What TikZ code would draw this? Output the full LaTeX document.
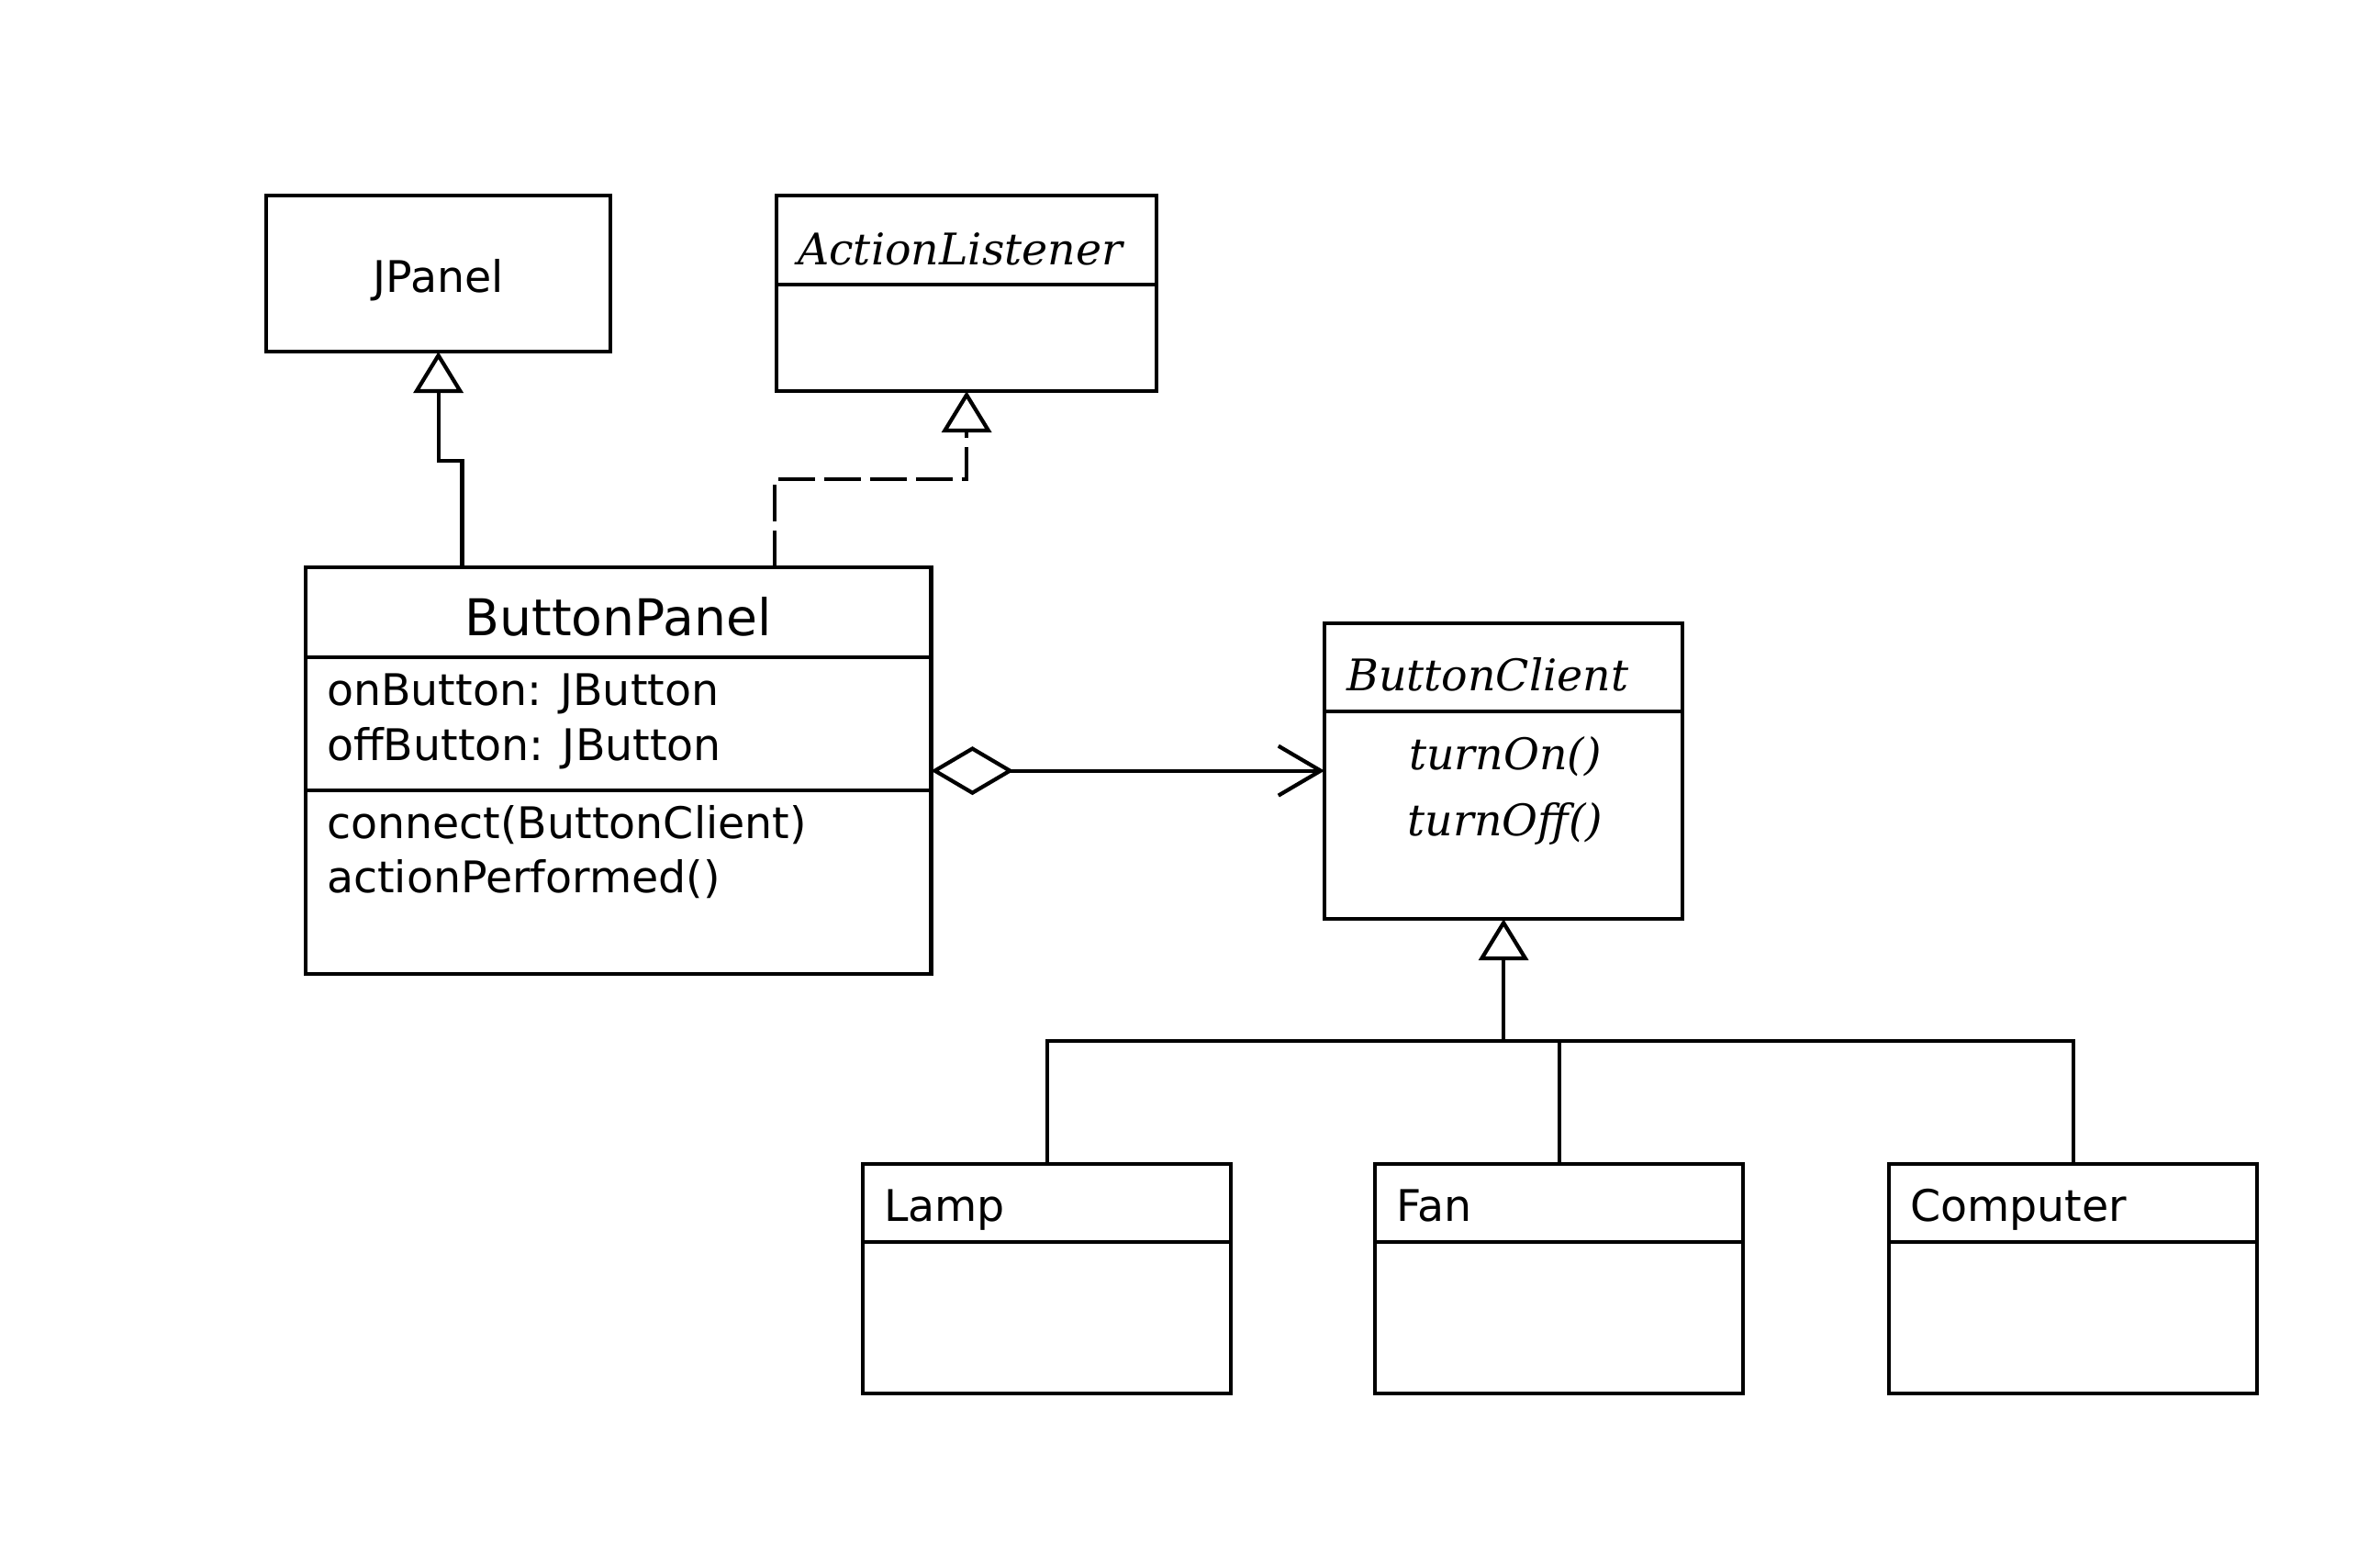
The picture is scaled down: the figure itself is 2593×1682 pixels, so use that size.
\documentclass[tikz,border=0pt]{standalone}
\usepackage{fontspec}
\setmainfont{DejaVu Sans}
\newfontfamily\serifface{DejaVu Serif}
\usetikzlibrary{arrows.meta}
\begin{document}
\begin{tikzpicture}[x=0.01cm,y=-0.01cm, line width=1.2pt,
  box/.style={draw, rectangle, inner sep=0pt, outer sep=0pt, anchor=north west},
  txt/.style={inner sep=0pt, font=\fontsize{13.5}{16}\selectfont},
  titletxt/.style={inner sep=0pt, font=\fontsize{15.7}{18}\selectfont},
  ittxt/.style={inner sep=0pt, font=\serifface\itshape\fontsize{13.5}{16}\selectfont},
  gen/.style={-{Triangle[open,length=0.45cm,width=0.54cm]}},
  realize/.style={gen, dash pattern=on 0.4cm off 0.1cm},
  aggr/.style={{Diamond[open,length=0.9cm,width=0.53cm]}-{Straight Barb[length=0.46cm,width=0.54cm]}}
]
\fill[white] (0,0) rectangle (2593,1682);
\useasboundingbox (0,0) rectangle (2593,1682);

% boxes
\node[box, minimum width=3.75cm, minimum height=1.70cm] (jp) at (290,213) {};
\node[box, minimum width=4.14cm, minimum height=2.13cm] (al) at (846,213) {};
\node[box, minimum width=6.81cm, minimum height=4.43cm] (bp) at (333,618) {};
\node[box, minimum width=3.90cm, minimum height=3.22cm] (bc) at (1443,679) {};
\node[box, minimum width=4.01cm, minimum height=2.50cm] (lamp) at (940,1268) {};
\node[box, minimum width=4.01cm, minimum height=2.50cm] (fan) at (1498,1268) {};
\node[box, minimum width=4.01cm, minimum height=2.50cm] (comp) at (2058,1268) {};

% compartment dividers
\draw (al.west |- 0,310) -- (al.east |- 0,310);
\draw (bp.west |- 0,716) -- (bp.east |- 0,716);
\draw (bp.west |- 0,861) -- (bp.east |- 0,861);
\draw (bc.west |- 0,775) -- (bc.east |- 0,775);
\draw (lamp.west |- 0,1353) -- (lamp.east |- 0,1353);
\draw (fan.west |- 0,1353) -- (fan.east |- 0,1353);
\draw (comp.west |- 0,1353) -- (comp.east |- 0,1353);

% texts
\node[txt, anchor=base] (jpt) at (477.5,318) {JPanel};
\node[ittxt, anchor=base west] (alt) at (867,288) {ActionListener};
\node[titletxt, anchor=base] (bpt) at (673.5,692) {ButtonPanel};
\node[txt, anchor=base west] (a1) at (354,768) {onButton: JButton};
\node[txt, anchor=base west] (a2) at (354,828) {offButton: JButton};
\node[txt, anchor=base west] (m1) at (354,913) {connect(ButtonClient)};
\node[txt, anchor=base west] (m2) at (354,972) {actionPerformed()};
\node[ittxt, anchor=base west] (bct) at (1465,752) {ButtonClient};
\node[ittxt, anchor=base] (on) at (1640,838) {turnOn()};
\node[ittxt, anchor=base] (off) at (1640,910) {turnOff()};
\node[txt, anchor=base west] (lampt) at (961,1330) {Lamp};
\node[txt, anchor=base west] (fant) at (1519,1330) {Fan};
\node[txt, anchor=base west] (compt) at (2079,1330) {Computer};

% connectors
\draw[gen] ([xshift=-1.7cm]bp.north) -- ++(0,-116) -| (jp.south);
\draw[realize] ([xshift=1.7cm]bp.north) -- ++(0,-96) -| (al.south);
\draw[aggr] (bp.east) -- (bp.east -| bc.west);
\coordinate (bus) at ([yshift=-1.33cm]bc.south);
\draw[gen] (bus) -- (bc.south);
\draw (lamp.north) |- (bus) -| (comp.north);
\draw (fan.north) -- (fan.north |- bus);
\end{tikzpicture}
\end{document}
